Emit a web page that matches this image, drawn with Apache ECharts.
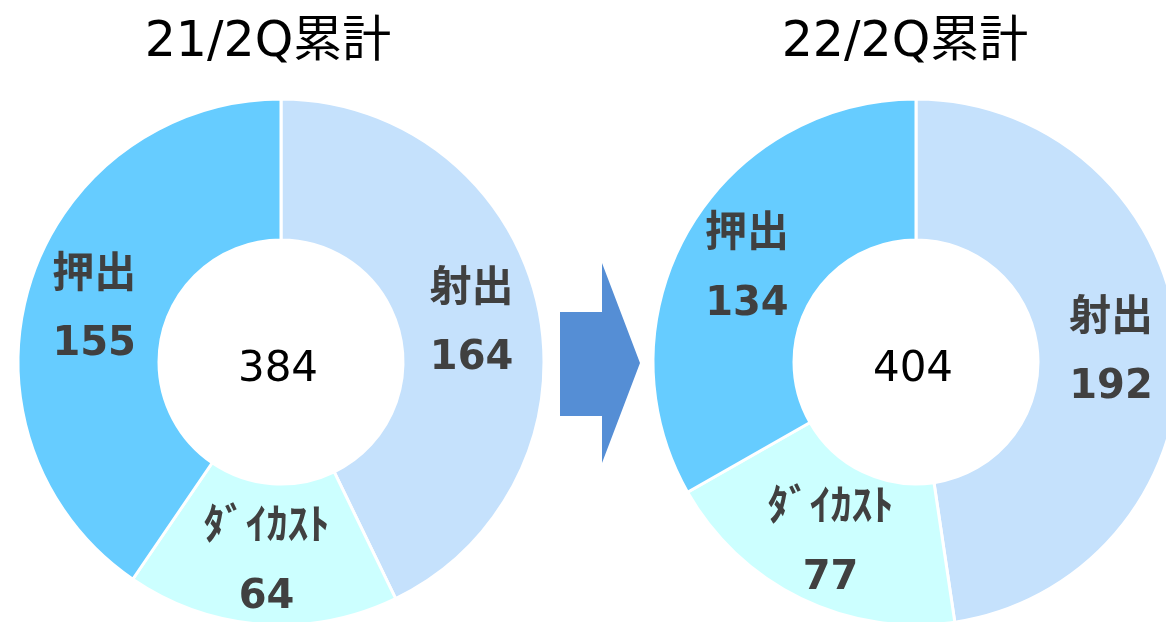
<!DOCTYPE html>
<html>
<head>
<meta charset="utf-8">
<script src="https://cdn.jsdelivr.net/npm/echarts@6/dist/echarts.min.js"></script>
<style>
html,body{margin:0;padding:0;background:#fff;}
#main{width:1166px;height:622px;}
</style>
</head>
<body>
<div id="main"></div>
<script>
// データ
var categories = ['射出', 'ﾀﾞｲｶｽﾄ', '押出'];
var values21 = [164, 64, 155];
var values22 = [192, 77, 134];
var totals = ['384', '404'];
var chartTitles = ['21/2Q累計', '22/2Q累計'];
var colors = ['#C5E1FC', '#CCFFFF', '#66CCFF'];

var FONT = '"DejaVu Sans", "Noto Sans CJK JP", sans-serif';

function makeData(vals)
{
	var arr = [];
	for (var i = 0; i < vals.length; i++) {
		arr.push({name: categories[i], value: vals[i], itemStyle: {color: colors[i]}});
	}
	return arr;
}

function makePie(name, cx, vals)
{
	return {
		name: name,
		type: 'pie',
		center: [cx, 362],
		radius: [122, 263],
		startAngle: 90,
		clockwise: true,
		silent: true,
		data: makeData(vals),
		itemStyle: {borderColor: '#fff', borderWidth: 3},
		label: {
			show: true,
			position: 'inside',
			offset: [0, 6],
			formatter: '{n|{b}}\n{v|{c}}',
			rich: {
				n: {fontFamily: FONT, fontWeight: 'bold', fontSize: 42, color: '#404040', lineHeight: 69},
				v: {fontFamily: FONT, fontWeight: 'bold', fontSize: 40, color: '#404040', lineHeight: 69}
			}
		},
		labelLine: {show: false}
	};
}

var myChart = echarts.init(document.getElementById('main'));
var option = {
	animation: false,
	backgroundColor: '#fff',
	title: [
		{text: chartTitles[0], left: 268, top: 19, textAlign: 'center', padding: 0,
		 textStyle: {fontFamily: FONT, fontWeight: 'normal', fontSize: 49, color: '#000'}},
		{text: chartTitles[1], left: 905, top: 19, textAlign: 'center', padding: 0,
		 textStyle: {fontFamily: FONT, fontWeight: 'normal', fontSize: 49, color: '#000'}},
		{text: totals[0], left: 278, top: 349, textAlign: 'center', padding: 0,
		 textStyle: {fontFamily: FONT, fontWeight: 'normal', fontSize: 42, color: '#000'}},
		{text: totals[1], left: 913, top: 349, textAlign: 'center', padding: 0,
		 textStyle: {fontFamily: FONT, fontWeight: 'normal', fontSize: 42, color: '#000'}}
	],
	graphic: [
		{
			type: 'polygon',
			shape: {points: [[560, 312], [602, 312], [602, 263], [640, 363], [602, 463], [602, 416], [560, 416]]},
			style: {fill: '#558ED5'}
		}
	],
	series: [
		makePie('21/2Q', 281, values21),
		makePie('22/2Q', 916, values22)
	]
};
myChart.setOption(option);
</script>
</body>
</html>
